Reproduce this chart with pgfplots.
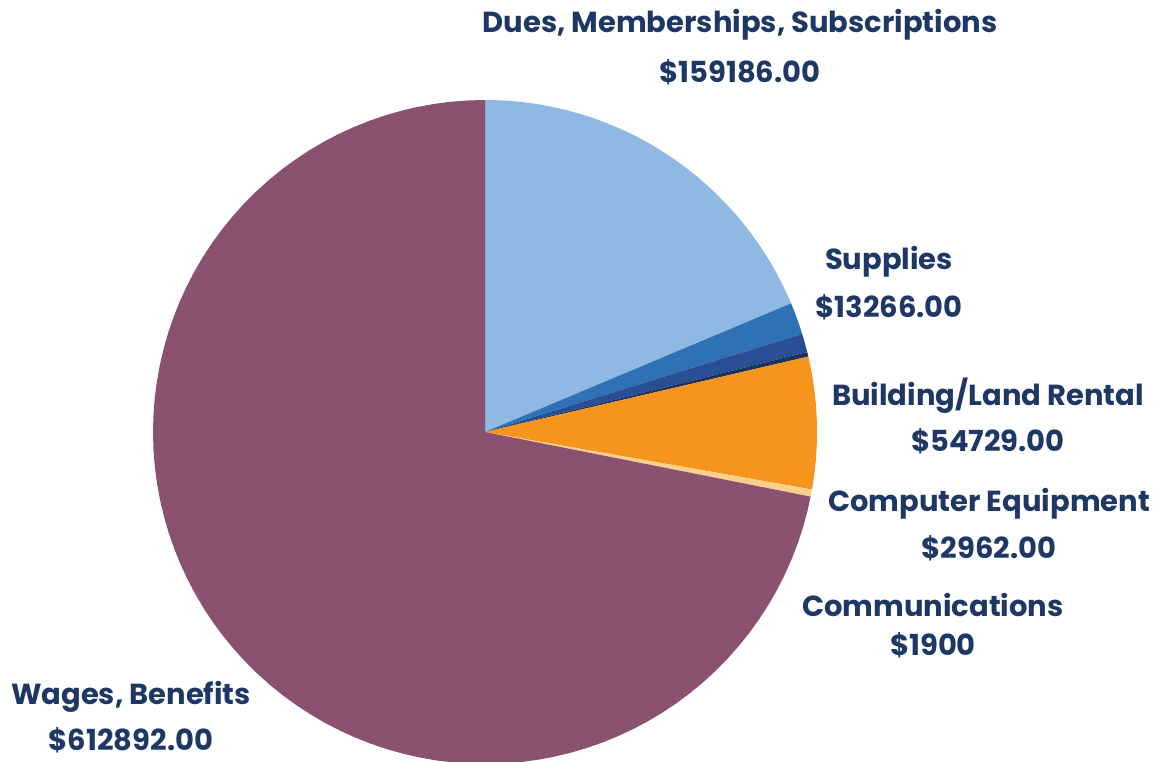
\documentclass[border=0pt]{standalone}
\usepackage{pgfplots}
\usepackage{pgfplotstable}
\pgfplotsset{compat=1.18}
\usepackage{fontspec}
\setmainfont{Poppins}

\definecolor{pie0}{HTML}{8FB9E3}
\definecolor{pie1}{HTML}{2E71B4}
\definecolor{pie2}{HTML}{2A4E94}
\definecolor{pie3}{HTML}{1E3260}
\definecolor{pie4}{HTML}{F6941E}
\definecolor{pie5}{HTML}{FDD08A}
\definecolor{pie6}{HTML}{8A5270}
\definecolor{txt}{HTML}{1E3764}

% slices clockwise from 12 o'clock
\pgfplotstableread{
name value
Dues 159186
Supplies 13266
Other 7700
Communications 1900
Building 54729
Computer 2962
Wages 612892
}\piedata

\begin{document}
\begin{tikzpicture}
% total and slice angles (fpu: the values are too big for plain pgfmath)
\xdef\total{0}
\foreach \i in {0,...,6}{
  \pgfkeys{/pgf/fpu=true,/pgf/fpu/output format=fixed}
  \pgfplotstablegetelem{\i}{value}\of\piedata
  \pgfmathparse{\total+\pgfplotsretval}\xdef\total{\pgfmathresult}
}
\xdef\cur{90}
\foreach \i in {0,...,6}{
  \pgfkeys{/pgf/fpu=true,/pgf/fpu/output format=fixed}
  \pgfplotstablegetelem{\i}{value}\of\piedata
  \pgfmathparse{\cur-\pgfplotsretval/\total*360}
  \expandafter\xdef\csname s\i\endcsname{\cur}
  \expandafter\xdef\csname e\i\endcsname{\pgfmathresult}
  \xdef\cur{\pgfmathresult}
}
\begin{axis}[
  width=580.5pt, height=380.5pt, scale only axis,
  xmin=0, xmax=1161, ymin=0, ymax=761,
  hide axis, clip=true,
]
\pgfplotsinvokeforeach{0,...,6}{
  \addplot[fill=pie#1, draw=none, samples=90,
    domain={\csname e#1\endcsname}:{\csname s#1\endcsname}]
    ({485+332*cos(x)},{329+332*sin(x)}) -- (axis cs:485,329) -- cycle;
}
\path (axis cs:0,0) rectangle (axis cs:1161,761);
\begin{scope}[every node/.style={font=\fontsize{14.5}{16}\selectfont\bfseries, text=txt, align=center}]
\node at (axis cs:740,736) {Dues, Memberships, Subscriptions};
\node at (axis cs:740,689) {\$159186.00};
\node at (axis cs:889,499) {Supplies};
\node at (axis cs:889,454) {\$13266.00};
\node at (axis cs:988,365) {Building/Land Rental};
\node at (axis cs:988,320) {\$54729.00};
\node at (axis cs:989,257) {Computer Equipment};
\node at (axis cs:989,213) {\$2962.00};
\node at (axis cs:933,156) {Communications};
\node at (axis cs:933,116) {\$1900};
\node at (axis cs:131,64) {Wages, Benefits};
\node at (axis cs:131,21) {\$612892.00};
\end{scope}
\end{axis}
\end{tikzpicture}
\end{document}
